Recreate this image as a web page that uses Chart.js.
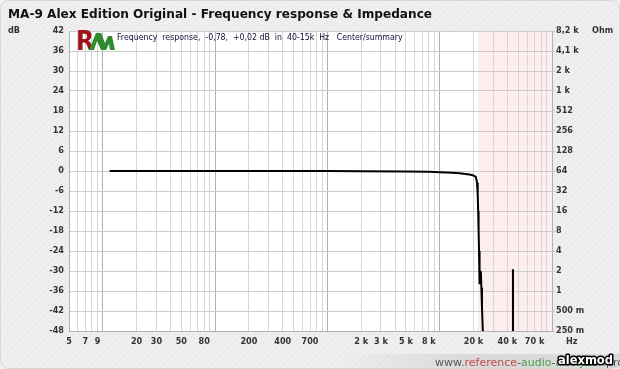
<!DOCTYPE html>
<html>
<head>
<meta charset="utf-8">
<script src="https://cdn.jsdelivr.net/npm/chart.js@4.4.0/dist/chart.umd.min.js"></script>
<style>
  html, body { margin: 0; padding: 0; background: #efefef; }
  #wrap { width: 620px; height: 369px; }
</style>
</head>
<body>
<div id="wrap"><canvas id="frChart" width="620" height="369"></canvas></div>
<script>
// Frequency response data (Hz, dB)
const freqs = [11.5, 20, 50, 100, 200, 500, 1000, 2000, 5000, 8000, 10000, 13000, 15000, 17000,
    19000, 20200, 21000, 21500, 21800, 22000, 22200, 22400, 22500, 22650, 22800, 23000, 23150,
    23300, 23500, 23800, 24200, 30000, 44700, 44900, 45100, 60000];
const levels = [0.02, 0.02, 0.02, 0.02, 0.02, 0.01, 0.0, -0.05, -0.15, -0.25, -0.35, -0.55, -0.7, -0.9,
    -1.15, -1.4, -1.8, -3.5, -7, -12, -18, -24, -29, -34, -29.5, -31, -33,
    -30, -35, -41, -48, -70, -70, -29.5, -70, -70];

const dbTicks = [-48, -42, -36, -30, -24, -18, -12, -6, 0, 6, 12, 18, 24, 30, 36, 42];
const ohmTicks = [0.25, 0.5, 1, 2, 4, 8, 16, 32, 64, 128, 256, 512, 1024, 2048, 4096, 8192];
const ohmLabels = ['250 m', '500 m', '1', '2', '4', '8', '16', '32', '64', '128', '256', '512', '1 k', '2 k', '4,1 k', '8,2 k'];
const freqLabelled = [5, 7, 9, 20, 30, 50, 80, 200, 400, 700, 2000, 3000, 5000, 8000, 20000, 40000, 70000];
const freqLabels = ['5', '7', '9', '20', '30', '50', '80', '200', '400', '700', '2 k', '3 k', '5 k', '8 k', '20 k', '40 k', '70 k'];

const title = 'MA-9 Alex Edition Original - Frequency response & Impedance';
const subtitle = 'Frequency  response,  -0,78,  +0,02 dB  in  40-15k  Hz   Center/summary';
const outOfBandStart = 22000;

const tickFont = { family: "'DejaVu Sans Condensed', 'DejaVu Sans', sans-serif", size: 9, weight: 'bold' };

// background hatch
function hatchPattern(ctx) {
    const c = document.createElement('canvas');
    c.width = 6; c.height = 6;
    const p = c.getContext('2d');
    p.fillStyle = '#efefef';
    p.fillRect(0, 0, 6, 6);
    p.strokeStyle = '#e6e6e6';
    p.lineWidth = 1;
    p.beginPath();
    p.moveTo(0, 6); p.lineTo(6, 0);
    p.stroke();
    return ctx.createPattern(c, 'repeat');
}

function fitFont(ctx, text, weight, family, width, start) {
    let size = start;
    ctx.font = `${weight} ${size}px ${family}`;
    const w = ctx.measureText(text).width;
    size = size * width / w;
    ctx.font = `${weight} ${size.toFixed(2)}px ${family}`;
}

const backdrop = {
    id: 'backdrop',
    beforeDraw(chart) {
        const { ctx, chartArea: a, scales } = chart;
        ctx.save();
        ctx.fillStyle = hatchPattern(ctx);
        ctx.beginPath();
        ctx.roundRect(0.5, 0.5, 619, 368, 8);
        ctx.fill();
        ctx.strokeStyle = '#d6d6d6';
        ctx.stroke();

        // bottom strip
        const g = ctx.createLinearGradient(340, 0, 470, 0);
        g.addColorStop(0, 'rgba(200,200,200,0)');
        g.addColorStop(1, 'rgba(200,200,200,0.55)');
        ctx.fillStyle = g;
        ctx.fillRect(340, 354, 279, 14);

        ctx.fillStyle = '#ffffff';
        ctx.fillRect(a.left, a.top, a.right - a.left, a.bottom - a.top);
        const xs = scales.x.getPixelForValue(outOfBandStart);
        ctx.fillStyle = '#fdeded';
        ctx.fillRect(xs, a.top, a.right - xs, a.bottom - a.top);
        ctx.restore();
    },
    afterDraw(chart) {
        const { ctx, chartArea: a } = chart;
        ctx.save();
        ctx.textBaseline = 'middle';
        ctx.fillStyle = '#111111';
        fitFont(ctx, title, 'bold', "'DejaVu Sans', sans-serif", 424, 13);
        ctx.textAlign = 'left';
        ctx.fillText(title, 8, 15);

        ctx.font = tickFont.weight + ' ' + tickFont.size + 'px ' + tickFont.family;
        ctx.fillStyle = '#333333';
        ctx.fillText('dB', 8, a.top);
        ctx.fillText('Ohm', 592, a.top);
        ctx.fillText('Hz', 566, a.bottom + 11);

        // logo: red R + two green strokes
        ctx.fillStyle = '#9c1418';
        ctx.font = "bold 26px 'DejaVu Sans Condensed', 'DejaVu Sans', sans-serif";
        ctx.textBaseline = 'alphabetic';
        ctx.fillText('R', 76, 50);
        ctx.fillStyle = '#2e8b2e';
        ctx.beginPath();
        ctx.moveTo(89, 50); ctx.lineTo(96, 33); ctx.lineTo(101, 33); ctx.lineTo(105, 43);
        ctx.lineTo(108, 36); ctx.lineTo(112, 36); ctx.lineTo(115, 50); ctx.lineTo(110, 50);
        ctx.lineTo(109, 44); ctx.lineTo(106, 50); ctx.lineTo(101, 50); ctx.lineTo(97, 41); ctx.lineTo(94, 50);
        ctx.closePath();
        ctx.fill();

        ctx.textBaseline = 'middle';
        ctx.fillStyle = '#101038';
        fitFont(ctx, subtitle, 'normal', "'DejaVu Sans Condensed', 'DejaVu Sans', sans-serif", 286, 9);
        ctx.fillText(subtitle, 117, 38);

        // site footer
        ctx.font = "11px 'DejaVu Sans', sans-serif";
        ctx.textBaseline = 'alphabetic';
        let x = 435;
        const parts = [['www.', '#555555'], ['reference', '#c24a4a'], ['-', '#555555'], ['audio', '#4c9a4c'],
            ['-', '#555555'], ['analyzer', '#4c9a4c'], ['.pro', '#555555']];
        for (const [t, c] of parts) {
            ctx.fillStyle = c;
            ctx.fillText(t, x, 366);
            x += ctx.measureText(t).width;
        }
        fitFont(ctx, 'alexmod', 'bold', "'DejaVu Sans', sans-serif", 55, 12);
        ctx.lineJoin = 'round';
        ctx.lineWidth = 3;
        ctx.strokeStyle = '#000000';
        ctx.strokeText('alexmod', 558, 364);
        ctx.fillStyle = '#ffffff';
        ctx.fillText('alexmod', 558, 364);
        ctx.restore();
    }
};

const ctx = document.getElementById('frChart').getContext('2d');
new Chart(ctx, {
    type: 'line',
    data: {
        datasets: [{
            label: 'Frequency response',
            data: freqs.map((f, i) => ({ x: f, y: levels[i] })),
            borderColor: '#000000',
            borderWidth: 2,
            pointRadius: 0,
            tension: 0,
            yAxisID: 'y'
        }]
    },
    options: {
        responsive: false,
        animation: false,
        events: [],
        layout: { padding: { top: 31, left: 0, right: 0, bottom: 0 } },
        plugins: { legend: { display: false }, tooltip: { enabled: false } },
        scales: {
            x: {
                type: 'logarithmic',
                min: 5,
                max: 100000,
                afterBuildTicks(scale) {
                    const t = [];
                    for (let e = 0; e <= 5; e++) {
                        for (let d = 1; d <= 9; d++) {
                            const v = d * Math.pow(10, e);
                            if (v >= 5 && v <= 100000) t.push({ value: v });
                        }
                    }
                    scale.ticks = t;
                },
                afterFit(scale) { scale.height = 38; },
                grid: {
                    drawTicks: false,
                    color: c => {
                        const v = c.tick ? c.tick.value : 0;
                        const e = Math.log10(v);
                        return Math.abs(e - Math.round(e)) < 1e-9 ? '#b0b0b0' : '#d6d6d6';
                    }
                },
                border: { color: '#b0b0b0' },
                ticks: {
                    autoSkip: false,
                    maxRotation: 0,
                    padding: 5,
                    color: '#333333',
                    font: tickFont,
                    callback: v => {
                        const i = freqLabelled.findIndex(f => Math.abs(f - v) < 1e-6);
                        return i >= 0 ? freqLabels[i] : '';
                    }
                }
            },
            y: {
                position: 'left',
                min: -48,
                max: 42,
                afterBuildTicks(scale) { scale.ticks = dbTicks.map(v => ({ value: v })); },
                afterFit(scale) { scale.width = 69; },
                grid: { drawTicks: false, color: '#cccccc' },
                border: { color: '#b0b0b0' },
                ticks: { padding: 5, color: '#333333', font: tickFont }
            },
            ohm: {
                type: 'logarithmic',
                position: 'right',
                min: 0.25,
                max: 8192,
                afterBuildTicks(scale) { scale.ticks = ohmTicks.map(v => ({ value: v })); },
                afterFit(scale) { scale.width = 68; },
                grid: { drawOnChartArea: false, drawTicks: true, tickLength: 3, color: '#c4c4c4' },
                border: { display: false },
                ticks: {
                    padding: 1,
                    color: '#333333',
                    font: tickFont,
                    callback: v => {
                        const i = ohmTicks.indexOf(v);
                        return i >= 0 ? ohmLabels[i] : '';
                    }
                }
            }
        }
    },
    plugins: [backdrop]
});
</script>
</body>
</html>
